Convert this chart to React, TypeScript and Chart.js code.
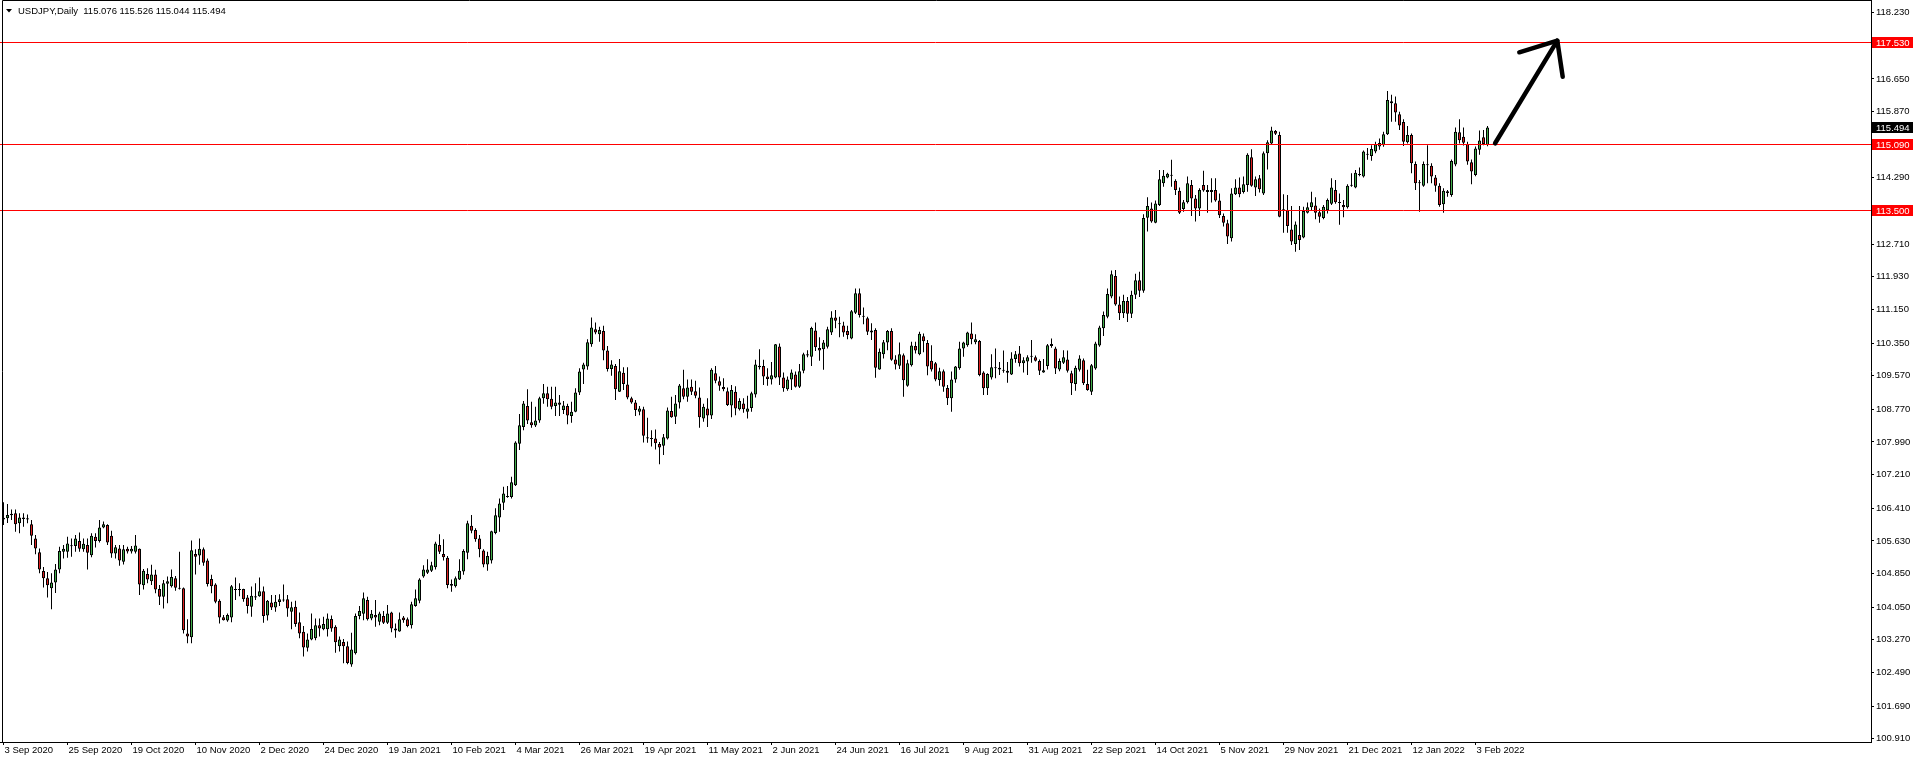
import React, { useEffect, useRef } from 'react';
import { Chart, registerables } from 'chart.js';

Chart.register(...registerables);

// ---- Data (USDJPY daily, bar 0 = 3 Sep 2020) ----
const openP = [
  106.14, 106.17, 106.24, 106.29, 106.05, 106.15, 106.17, 106.03, 105.69, 105.36,
  104.91, 104.74, 104.50, 104.64, 104.95, 105.37, 105.37, 105.51, 105.51, 105.63,
  105.43, 105.53, 105.29, 105.73, 105.63, 105.95, 106.01, 105.75, 105.33, 105.45,
  105.13, 105.44, 105.38, 105.37, 105.44, 104.57, 104.84, 104.67, 104.83, 104.48,
  104.30, 104.61, 104.55, 104.74, 104.50, 104.50, 103.42, 103.33, 105.32, 105.28,
  105.43, 105.16, 104.72, 104.59, 104.20, 103.81, 103.73, 103.80, 104.48, 104.46,
  104.48, 104.28, 104.06, 104.31, 104.31, 104.43, 103.85, 104.16, 104.04, 104.17,
  104.21, 104.24, 103.94, 104.06, 103.69, 103.46, 103.08, 103.28, 103.31, 103.62,
  103.52, 103.52, 103.77, 103.58, 103.12, 103.22, 103.12, 102.68, 102.95, 103.84,
  103.89, 104.22, 103.78, 103.86, 103.70, 103.84, 103.68, 103.92, 103.54, 103.47,
  103.80, 103.76, 103.62, 104.08, 104.20, 104.78, 104.87, 104.92, 105.00, 105.53,
  105.32, 105.23, 104.60, 104.55, 104.71, 104.90, 105.35, 105.99, 105.89, 105.69,
  105.40, 105.07, 105.16, 105.82, 106.19, 106.54, 106.68, 106.68, 106.96, 107.95,
  108.35, 108.85, 108.46, 108.38, 108.50, 109.03, 109.15, 109.02, 108.85, 108.93,
  108.75, 108.85, 108.61, 108.71, 109.17, 109.72, 109.79, 110.32, 110.68, 110.56,
  110.64, 110.17, 109.73, 109.80, 109.19, 109.64, 109.36, 109.03, 108.93, 108.71,
  108.77, 108.10, 108.08, 108.07, 107.94, 107.90, 108.07, 108.73, 108.59, 108.93,
  109.27, 109.07, 109.31, 109.20, 109.05, 108.55, 108.79, 108.62, 109.63, 109.44,
  109.30, 109.20, 108.86, 109.19, 108.77, 108.91, 108.71, 108.80, 109.12, 109.81,
  109.80, 109.55, 109.48, 109.53, 110.27, 109.53, 109.25, 109.48, 109.60, 109.31,
  109.69, 110.08, 110.02, 110.65, 110.23, 110.20, 110.26, 110.60, 110.96, 110.82,
  110.77, 110.64, 110.46, 111.07, 111.54, 111.00, 110.94, 110.60, 110.66, 109.72,
  110.08, 110.36, 110.64, 109.96, 109.81, 110.06, 109.33, 109.82, 110.28, 110.08,
  110.51, 110.35, 109.93, 109.87, 109.47, 109.68, 109.28, 109.03, 109.48, 109.75,
  110.22, 110.30, 110.58, 110.37, 110.40, 109.65, 109.27, 109.53, 109.77, 109.76,
  109.70, 109.69, 109.60, 109.97, 110.10, 109.87, 109.91, 110.02, 110.01, 109.92,
  109.65, 109.80, 110.33, 110.22, 109.72, 109.88, 109.96, 109.63, 109.37, 109.71,
  109.94, 109.37, 109.19, 109.74, 110.29, 110.70, 110.98, 111.46, 111.95, 111.27,
  111.06, 111.35, 111.05, 111.50, 111.85, 111.60, 113.34, 113.56, 113.22, 113.64,
  114.16, 114.30, 114.36, 114.22, 113.98, 113.55, 113.71, 114.12, 113.80, 113.56,
  114.12, 114.00, 114.00, 114.00, 113.75, 113.38, 113.21, 112.85, 113.90, 114.06,
  113.95, 114.12, 114.78, 114.06, 114.28, 113.92, 114.88, 115.11, 115.41, 115.31,
  113.54, 113.52, 113.06, 112.71, 112.93, 112.87, 113.46, 113.59, 113.63, 113.47,
  113.33, 113.52, 113.67, 114.00, 113.71, 113.64, 113.59, 114.10, 114.06, 114.36,
  114.32, 114.86, 114.81, 114.92, 115.04, 115.07, 115.33, 116.12, 116.07, 115.81,
  115.62, 115.14, 115.31, 114.62, 114.18, 114.10, 114.61, 114.58, 114.30, 114.10,
  113.66, 113.97, 113.88, 114.61, 115.38, 115.27, 115.10, 114.66, 114.36, 114.96,
  115.26, 115.076,
];

const highP = [
  106.55, 106.51, 106.38, 106.38, 106.29, 106.29, 106.26, 106.13, 105.77, 105.45,
  105.01, 104.89, 104.86, 105.08, 105.49, 105.53, 105.73, 105.69, 105.77, 105.83,
  105.69, 105.69, 105.81, 105.81, 106.13, 106.09, 106.03, 105.87, 105.53, 105.53,
  105.53, 105.49, 105.51, 105.77, 105.45, 104.96, 104.98, 105.06, 104.94, 104.58,
  104.70, 104.78, 104.95, 104.79, 105.37, 104.52, 103.76, 105.64, 105.43, 105.69,
  105.47, 105.21, 104.82, 104.62, 104.24, 103.86, 103.90, 104.58, 104.76, 104.62,
  104.49, 104.34, 104.54, 104.62, 104.76, 104.54, 104.22, 104.34, 104.34, 104.36,
  104.59, 104.34, 104.18, 104.20, 103.92, 103.60, 103.42, 103.90, 103.78, 103.78,
  103.82, 103.90, 103.85, 103.62, 103.35, 103.29, 103.23, 103.44, 103.90, 104.08,
  104.40, 104.30, 103.98, 104.22, 103.94, 103.96, 104.10, 103.94, 103.66, 103.92,
  103.84, 103.80, 104.18, 104.47, 104.74, 105.05, 105.19, 105.13, 105.61, 105.79,
  105.67, 105.27, 104.71, 104.78, 105.19, 105.43, 106.11, 106.25, 105.93, 105.77,
  105.43, 105.37, 105.87, 106.41, 106.64, 106.92, 106.94, 107.16, 108.01, 108.66,
  108.97, 109.25, 108.95, 108.83, 109.07, 109.37, 109.31, 109.31, 109.31, 109.11,
  108.97, 108.90, 108.95, 109.27, 109.75, 109.88, 110.44, 110.96, 110.84, 110.74,
  110.76, 110.28, 109.94, 109.85, 109.97, 109.77, 109.77, 109.07, 108.99, 108.85,
  108.83, 108.57, 108.27, 108.29, 107.99, 108.18, 108.81, 109.07, 109.11, 109.37,
  109.71, 109.48, 109.48, 109.45, 109.29, 108.90, 109.03, 109.75, 109.80, 109.55,
  109.51, 109.29, 109.35, 109.32, 109.03, 109.03, 109.09, 109.19, 109.95, 110.20,
  109.95, 109.75, 109.90, 110.33, 110.34, 109.65, 109.55, 109.72, 109.67, 109.85,
  110.12, 110.18, 110.74, 110.84, 110.49, 110.42, 110.74, 111.11, 111.14, 110.98,
  110.86, 110.76, 111.14, 111.65, 111.65, 111.20, 110.98, 110.82, 110.70, 110.22,
  110.42, 110.66, 110.70, 110.06, 110.36, 110.10, 109.95, 110.38, 110.38, 110.62,
  110.58, 110.42, 110.30, 109.90, 109.76, 109.72, 109.35, 109.67, 109.80, 110.38,
  110.38, 110.62, 110.84, 110.56, 110.42, 109.68, 109.63, 110.08, 110.22, 109.90,
  110.17, 109.90, 110.13, 110.16, 110.28, 110.01, 110.06, 110.42, 110.05, 109.96,
  109.97, 110.33, 110.46, 110.26, 109.98, 110.18, 110.17, 109.69, 109.81, 110.06,
  109.98, 109.71, 109.85, 110.38, 110.76, 111.10, 111.65, 112.08, 112.09, 111.46,
  111.50, 111.45, 111.60, 112.00, 112.05, 113.42, 113.83, 113.70, 113.75, 114.48,
  114.48, 114.41, 114.72, 114.26, 114.06, 113.76, 114.32, 114.24, 113.88, 114.04,
  114.46, 114.12, 114.28, 114.28, 113.92, 113.44, 113.29, 114.04, 114.26, 114.30,
  114.32, 114.88, 114.97, 114.32, 114.36, 114.92, 115.19, 115.51, 115.43, 115.39,
  113.90, 113.88, 113.62, 113.25, 113.62, 113.60, 113.70, 113.96, 113.83, 113.56,
  113.64, 113.80, 114.28, 114.24, 113.92, 113.76, 114.14, 114.40, 114.48, 114.54,
  114.94, 115.00, 115.07, 115.15, 115.23, 115.39, 116.36, 116.27, 116.23, 115.87,
  115.69, 115.53, 115.35, 114.68, 114.24, 114.68, 115.07, 114.64, 114.36, 114.16,
  114.04, 114.00, 114.73, 115.49, 115.69, 115.49, 115.15, 114.73, 115.04, 115.42,
  115.43, 115.526,
];

const lowP = [
  106.01, 106.06, 106.13, 105.85, 105.81, 105.97, 106.05, 105.53, 105.31, 104.86,
  104.52, 104.28, 104.00, 104.39, 104.86, 105.21, 105.23, 105.25, 105.37, 105.37,
  105.37, 104.95, 105.24, 105.47, 105.59, 105.93, 105.53, 105.23, 105.21, 105.04,
  105.07, 105.33, 105.33, 105.33, 104.34, 104.47, 104.62, 104.58, 104.38, 104.10,
  104.02, 104.14, 104.52, 104.44, 104.47, 103.42, 103.19, 103.19, 104.83, 105.06,
  105.04, 104.54, 104.38, 104.14, 103.66, 103.73, 103.70, 103.69, 104.22, 104.31,
  104.18, 103.90, 103.82, 104.22, 104.30, 103.68, 103.73, 103.98, 103.94, 104.08,
  104.18, 103.82, 103.52, 103.58, 103.31, 102.87, 102.99, 103.26, 103.26, 103.35,
  103.50, 103.35, 103.46, 102.96, 102.99, 102.71, 102.69, 102.63, 102.92, 103.76,
  103.74, 103.73, 103.74, 103.58, 103.62, 103.65, 103.65, 103.45, 103.32, 103.46,
  103.68, 103.57, 103.54, 104.06, 104.14, 104.75, 104.84, 104.89, 104.95, 105.32,
  105.16, 104.50, 104.42, 104.52, 104.70, 104.82, 105.19, 105.81, 105.61, 105.24,
  105.00, 104.92, 105.09, 105.79, 105.85, 106.37, 106.66, 106.64, 106.94, 107.80,
  108.27, 108.42, 108.33, 108.35, 108.45, 108.90, 108.83, 108.77, 108.61, 108.61,
  108.66, 108.41, 108.45, 108.70, 109.11, 109.37, 109.71, 110.26, 110.56, 110.38,
  109.94, 109.67, 109.57, 108.99, 109.18, 109.23, 109.01, 108.90, 108.61, 108.63,
  107.98, 107.97, 107.88, 107.81, 107.46, 107.68, 108.05, 108.57, 108.42, 108.79,
  109.01, 108.95, 109.11, 109.03, 108.33, 108.47, 108.35, 108.54, 109.39, 109.21,
  109.20, 108.85, 108.58, 108.63, 108.74, 108.69, 108.55, 108.71, 109.05, 109.72,
  109.35, 109.33, 109.36, 109.51, 109.35, 109.19, 109.21, 109.23, 109.29, 109.28,
  109.63, 110.01, 109.80, 110.16, 109.93, 109.71, 110.22, 110.54, 110.70, 110.49,
  110.50, 110.44, 110.44, 111.04, 110.96, 110.80, 110.54, 110.42, 109.52, 109.71,
  109.98, 110.18, 109.93, 109.72, 109.73, 109.07, 109.31, 109.79, 110.10, 110.06,
  110.13, 109.58, 109.67, 109.44, 109.33, 109.19, 108.87, 108.71, 109.40, 109.71,
  110.02, 110.26, 110.32, 110.32, 109.56, 109.11, 109.11, 109.48, 109.51, 109.59,
  109.64, 109.40, 109.59, 109.88, 109.79, 109.65, 109.59, 109.88, 109.91, 109.59,
  109.64, 109.72, 110.24, 109.61, 109.68, 109.85, 109.65, 109.11, 109.21, 109.67,
  109.35, 109.21, 109.11, 109.71, 110.26, 110.52, 110.94, 111.42, 111.24, 110.90,
  110.95, 110.85, 110.95, 111.40, 111.45, 111.55, 113.01, 113.22, 113.21, 113.62,
  114.08, 114.28, 114.08, 113.88, 113.43, 113.48, 113.68, 113.38, 113.25, 113.38,
  113.96, 113.46, 113.70, 113.72, 113.33, 113.13, 112.71, 112.77, 113.88, 113.83,
  113.92, 113.96, 114.08, 113.86, 113.94, 113.88, 114.49, 115.10, 115.31, 113.35,
  112.98, 112.98, 112.69, 112.53, 112.57, 112.85, 113.44, 113.51, 113.30, 113.22,
  113.30, 113.44, 113.64, 113.67, 113.17, 113.35, 113.56, 114.08, 114.04, 114.33,
  114.30, 114.72, 114.70, 114.88, 114.96, 115.03, 115.31, 115.63, 115.63, 115.43,
  115.05, 115.11, 114.40, 114.00, 113.48, 114.08, 114.16, 114.16, 113.96, 113.60,
  113.46, 113.84, 113.84, 114.57, 115.11, 115.06, 114.60, 114.14, 114.33, 114.84,
  115.07, 115.044,
];

const closeP = [
  106.18, 106.25, 106.28, 106.03, 106.19, 106.19, 106.14, 105.75, 105.45, 104.95,
  104.74, 104.57, 104.64, 104.95, 105.39, 105.44, 105.57, 105.50, 105.69, 105.44,
  105.56, 105.35, 105.75, 105.63, 105.95, 106.03, 105.59, 105.33, 105.48, 105.16,
  105.43, 105.38, 105.44, 105.52, 104.59, 104.92, 104.71, 104.83, 104.47, 104.30,
  104.62, 104.67, 104.77, 104.51, 104.49, 103.50, 103.35, 105.41, 105.25, 105.44,
  105.11, 104.60, 104.55, 104.18, 103.80, 103.74, 103.86, 104.55, 104.46, 104.48,
  104.24, 104.08, 104.32, 104.28, 104.43, 103.84, 104.20, 104.04, 104.18, 104.24,
  104.22, 104.02, 104.05, 103.65, 103.42, 103.09, 103.28, 103.53, 103.62, 103.54,
  103.65, 103.78, 103.54, 103.21, 103.28, 103.12, 102.72, 103.04, 103.84, 103.96,
  104.26, 103.76, 103.89, 103.80, 103.90, 103.68, 103.90, 103.54, 103.49, 103.76,
  103.74, 103.60, 104.12, 104.26, 104.71, 104.95, 104.95, 105.05, 105.57, 105.37,
  105.24, 104.58, 104.56, 104.74, 104.92, 105.39, 106.05, 105.87, 105.67, 105.43,
  105.07, 105.27, 105.86, 106.24, 106.52, 106.76, 106.69, 107.03, 107.98, 108.39,
  108.91, 108.50, 108.39, 108.50, 109.03, 109.15, 109.01, 108.83, 108.93, 108.88,
  108.86, 108.62, 108.71, 109.17, 109.67, 109.84, 110.37, 110.72, 110.60, 110.66,
  110.17, 109.73, 109.84, 109.25, 109.68, 109.37, 109.05, 108.93, 108.75, 108.79,
  108.14, 108.07, 108.06, 107.96, 107.86, 108.10, 108.74, 108.58, 108.91, 109.34,
  109.07, 109.29, 109.19, 109.09, 108.58, 108.83, 108.62, 109.71, 109.45, 109.33,
  109.25, 108.87, 109.23, 108.79, 108.97, 108.77, 108.79, 109.15, 109.84, 109.77,
  109.55, 109.49, 109.58, 110.32, 109.53, 109.27, 109.48, 109.65, 109.31, 109.68,
  110.08, 110.05, 110.71, 110.25, 110.17, 110.36, 110.68, 110.96, 110.88, 110.80,
  110.60, 110.54, 111.11, 111.54, 111.02, 110.98, 110.62, 110.65, 109.76, 110.14,
  110.37, 110.64, 109.95, 109.84, 110.08, 109.46, 109.87, 110.29, 110.17, 110.57,
  110.39, 109.79, 109.72, 109.48, 109.68, 109.31, 109.03, 109.48, 109.79, 110.22,
  110.36, 110.60, 110.44, 110.44, 109.59, 109.27, 109.61, 109.77, 109.75, 109.72,
  109.69, 109.64, 109.98, 110.08, 109.87, 109.94, 110.01, 110.03, 109.93, 109.69,
  109.70, 110.30, 110.28, 109.74, 109.92, 110.01, 109.69, 109.39, 109.76, 109.98,
  109.39, 109.23, 109.82, 110.34, 110.72, 111.02, 111.52, 111.99, 111.27, 111.06,
  111.35, 111.05, 111.50, 111.85, 111.60, 113.33, 113.62, 113.25, 113.68, 114.26,
  114.34, 114.39, 114.34, 114.00, 113.46, 113.71, 114.16, 113.80, 113.56, 114.00,
  113.99, 113.95, 113.95, 113.75, 113.40, 113.22, 112.89, 113.92, 114.06, 113.90,
  114.14, 114.84, 114.10, 114.26, 114.02, 114.88, 115.14, 115.42, 115.34, 113.36,
  113.50, 113.14, 112.77, 113.18, 112.81, 113.50, 113.59, 113.71, 113.46, 113.36,
  113.60, 113.76, 114.06, 113.71, 113.69, 113.59, 114.10, 114.12, 114.41, 114.36,
  114.92, 114.84, 114.98, 115.09, 115.12, 115.33, 116.15, 116.07, 115.85, 115.54,
  115.15, 115.31, 114.64, 114.16, 114.16, 114.62, 114.59, 114.32, 114.10, 113.64,
  113.98, 113.93, 114.69, 115.39, 115.19, 115.13, 114.68, 114.44, 114.99, 115.18,
  115.10, 115.494,
];

const dateTickIndex = [
  0, 16, 32, 48, 64, 80, 96, 112, 128, 144, 160, 176,
  192, 208, 224, 240, 256, 272, 288, 304, 320, 336, 352, 368,
];
const dateTickLabels = [
  '3 Sep 2020', '25 Sep 2020', '19 Oct 2020', '10 Nov 2020', '2 Dec 2020', '24 Dec 2020',
  '19 Jan 2021', '10 Feb 2021', '4 Mar 2021', '26 Mar 2021', '19 Apr 2021', '11 May 2021',
  '2 Jun 2021', '24 Jun 2021', '16 Jul 2021', '9 Aug 2021', '31 Aug 2021', '22 Sep 2021',
  '14 Oct 2021', '5 Nov 2021', '29 Nov 2021', '21 Dec 2021', '12 Jan 2022', '3 Feb 2022',
];
const priceTicks = [
  118.23, 117.45, 116.65, 115.87, 115.09, 114.29, 113.5, 112.71, 111.93, 111.15, 110.35, 109.57,
  108.77, 107.99, 107.21, 106.41, 105.63, 104.85, 104.05, 103.27, 102.49, 101.69, 100.91,
];
const levelLines = [117.53, 115.09, 113.5];
const lastPrice = 115.494;
const titleText = 'USDJPY,Daily  115.076 115.526 115.044 115.494';

// hand-drawn arrow (bar index, price)
const arrowShaft = [{ x: 372.9, y: 115.115 }, { x: 388.45, y: 117.562 }];
const arrowHead = [{ x: 378.95, y: 117.285 }, { x: 388.45, y: 117.562 }, { x: 389.8, y: 116.703 }];

// view window
const X_MIN = -0.875;
const X_MAX = 466.875;
const Y_MIN = 100.833;
const Y_MAX = 118.533;

const GREEN = '#41ad49';
const RED = '#dc1f1f';
const FONT = 'Liberation Sans';

export default function App() {
  const ref = useRef<HTMLCanvasElement | null>(null);

  useEffect(() => {
    document.body.style.margin = '0';
    document.body.style.overflow = 'hidden';
    const canvas = ref.current;
    if (!canvas) return;
    const n = closeP.length;
    const idx = Array.from({ length: n }, (_, i) => i);
    const wickData = idx.map((i) => ({
      x: i,
      y: [Math.min(lowP[i], openP[i], closeP[i]), Math.max(highP[i], openP[i], closeP[i])],
    }));
    const bodyData = idx.map((i) => ({ x: i, y: [openP[i], closeP[i]] }));
    const bodyColors = idx.map((i) => (closeP[i] >= openP[i] ? GREEN : RED));

    const overlay = {
      id: 'overlay',
      beforeDatasetDraw(chart: any, args: any) {
        // keep the 1px level lines crisp
        if (args.index < levelLines.length) {
          const py = chart.scales.y.getPixelForValue(levelLines[args.index]);
          chart.ctx.save();
          chart.ctx.translate(0, Math.floor(py) + 0.5 - py);
        }
      },
      afterDatasetDraw(chart: any, args: any) {
        if (args.index < levelLines.length) chart.ctx.restore();
      },
      afterDraw(chart: any) {
        const { ctx, chartArea, scales } = chart;
        const ys = scales.y;
        ctx.save();
        // frame (left + top)
        ctx.strokeStyle = '#000';
        ctx.lineWidth = 1;
        ctx.beginPath();
        ctx.moveTo(2.5, chartArea.bottom);
        ctx.lineTo(2.5, 0.5);
        ctx.lineTo(chartArea.right, 0.5);
        ctx.stroke();
        // title
        ctx.fillStyle = '#000';
        ctx.beginPath();
        ctx.moveTo(6, 9);
        ctx.lineTo(12, 9);
        ctx.lineTo(9, 12.5);
        ctx.closePath();
        ctx.fill();
        ctx.font = `9.5px "${FONT}"`;
        ctx.textBaseline = 'alphabetic';
        ctx.textAlign = 'left';
        ctx.fillText(titleText, 18, 14);
        // axis price boxes
        const box = (v: number, bg: string) => {
          const py = Math.floor(ys.getPixelForValue(v));
          ctx.fillStyle = bg;
          ctx.fillRect(chartArea.right + 1, py - 5, 41, 11);
          ctx.fillStyle = '#fff';
          ctx.textBaseline = 'middle';
          ctx.fillText(v.toFixed(3), chartArea.right + 5, py + 1);
        };
        levelLines.forEach((v) => box(v, '#ff0000'));
        box(lastPrice, '#000');
        ctx.restore();
      },
    };

    const chart = new Chart(canvas, {
      type: 'bar',
      data: {
        datasets: [
          ...levelLines.map((v) => ({
            type: 'line' as const,
            data: [{ x: X_MIN, y: v }, { x: X_MAX, y: v }],
            borderColor: '#ff0000',
            borderWidth: 1,
            pointRadius: 0,
            fill: false,
            order: -1,
          })),
          {
            type: 'line' as const,
            data: arrowShaft,
            borderColor: '#000',
            borderWidth: 4.5,
            borderCapStyle: 'round',
            borderJoinStyle: 'round',
            pointRadius: 0,
            fill: false,
            order: -2,
          },
          {
            type: 'line' as const,
            data: arrowHead,
            borderColor: '#000',
            borderWidth: 4.5,
            borderCapStyle: 'round',
            borderJoinStyle: 'round',
            pointRadius: 0,
            fill: false,
            order: -2,
          },
          {
            type: 'bar' as const,
            data: bodyData,
            backgroundColor: bodyColors,
            borderColor: '#000',
            borderWidth: 1,
            borderSkipped: false,
            barThickness: 3,
            maxBarThickness: 3,
            grouped: false,
            minBarLength: 1,
            inflateAmount: 0,
            order: 1,
          },
          {
            type: 'bar' as const,
            data: wickData,
            backgroundColor: '#000',
            borderWidth: 0,
            barThickness: 1,
            maxBarThickness: 1,
            grouped: false,
            inflateAmount: 0,
            order: 2,
          },
        ] as any,
      },
      options: {
        animation: false,
        responsive: false,
        devicePixelRatio: 1,
        layout: { padding: 0 },
        plugins: { legend: { display: false }, tooltip: { enabled: false } },
        events: [],
        scales: {
          x: {
            type: 'linear',
            position: 'bottom',
            min: X_MIN,
            max: X_MAX,
            bounds: 'data',
            offset: false,
            grid: { display: true, drawOnChartArea: false, drawTicks: true, tickLength: 3, color: '#000', offset: false },
            border: { display: true, color: '#000', width: 1 },
            ticks: {
              autoSkip: false,
              maxRotation: 0,
              minRotation: 0,
              align: 'start',
              labelOffset: 1,
              padding: 0,
              color: '#000',
              font: { family: FONT, size: 9.5 },
              callback: (v: any) => {
                const k = dateTickIndex.indexOf(Number(v));
                return k >= 0 ? dateTickLabels[k] : '';
              },
            },
            afterBuildTicks: (scale: any) => {
              scale.ticks = dateTickIndex.map((v) => ({ value: v }));
            },
            afterFit: (scale: any) => {
              scale.height = 20;
              scale.paddingLeft = 0;
              scale.paddingRight = 0;
              scale.paddingTop = 0;
              scale.paddingBottom = 0;
            },
          },
          y: {
            type: 'linear',
            position: 'right',
            min: Y_MIN,
            max: Y_MAX,
            bounds: 'data',
            beginAtZero: false,
            grid: { display: true, drawOnChartArea: false, drawTicks: true, tickLength: 3, color: '#000' },
            border: { display: true, color: '#000', width: 1 },
            ticks: {
              autoSkip: false,
              padding: 2,
              color: '#000',
              font: { family: FONT, size: 9.5 },
              callback: (v: any) => Number(v).toFixed(3),
            },
            afterBuildTicks: (scale: any) => {
              scale.ticks = priceTicks.map((v) => ({ value: v }));
            },
            afterFit: (scale: any) => {
              scale.width = 45;
              scale.paddingLeft = 0;
              scale.paddingRight = 0;
              scale.paddingTop = 0;
              scale.paddingBottom = 0;
            },
          },
        },
      } as any,
      plugins: [overlay],
    });

    return () => {
      chart.destroy();
    };
  }, []);

  return (
    <div style={{ width: 1916, height: 762, background: '#fff' }}>
      <canvas ref={ref} width={1916} height={762} style={{ display: 'block', width: 1916, height: 762 }} />
    </div>
  );
}
